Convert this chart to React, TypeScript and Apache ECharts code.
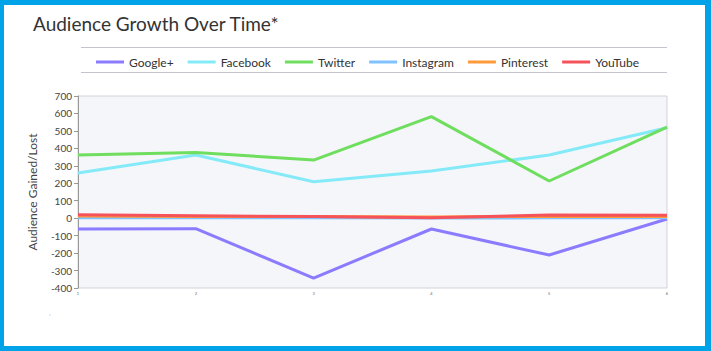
import React, { useEffect, useRef } from "react";
import * as echarts from "echarts";

const categories = ["1", "2", "3", "4", "5", "6"];
const googlePlus = [-62, -60, -343, -62, -211, -5];
const facebook = [259, 362, 209, 270, 362, 518];
const twitter = [362, 377, 333, 582, 213, 522];
const instagram = [3, 3, 2, 1, 2, 3];
const pinterest = [12, 10, 10, 7, 10, 9];
const youtube = [19, 14, 9, 3, 18, 17];
const yTicks = { min: -400, max: 700, interval: 100 };

const seriesDefs = [
  { name: "Google+", data: googlePlus, color: "#8b7bff" },
  { name: "Facebook", data: facebook, color: "#84eaf8" },
  { name: "Twitter", data: twitter, color: "#6fde5e" },
  { name: "Instagram", data: instagram, color: "#80c2ff" },
  { name: "Pinterest", data: pinterest, color: "#ff9a3a" },
  { name: "YouTube", data: youtube, color: "#f5525a" },
];

export default function App() {
  const ref = useRef<HTMLDivElement>(null);
  useEffect(() => {
    if (!ref.current) return;
    const chart = echarts.init(ref.current, null, { renderer: "svg" });
    const font = "Lato, 'Open Sans', sans-serif";
    chart.setOption({
      animation: false,
      backgroundColor: "#ffffff",
      textStyle: { fontFamily: font },
      title: {
        text: "Audience Growth Over Time*",
        left: 28,
        top: 9,
        textStyle: { fontSize: 19, fontWeight: "normal", color: "#333333", fontFamily: font },
      },
      legend: {
        top: 51,
        left: 91,
        itemWidth: 28,
        itemHeight: 3,
        itemGap: 14,
        icon: "rect",
        textStyle: { fontSize: 12, color: "#333333", fontFamily: font },
        data: seriesDefs.map((s) => s.name),
      },
      graphic: [
        { type: "line", shape: { x1: 81, y1: 47.5, x2: 667, y2: 47.5 }, style: { stroke: "#c4c4cc", lineWidth: 1 } },
        { type: "line", shape: { x1: 81, y1: 72.5, x2: 667, y2: 72.5 }, style: { stroke: "#c4c4cc", lineWidth: 1 } },
        { type: "text", left: 49, top: 310, style: { text: ",", fontSize: 6, fill: "#666" } },
      ],
      grid: {
        left: 78,
        right: 44,
        top: 96,
        bottom: 63,
        show: true,
        backgroundColor: "#f5f6fa",
        borderColor: "#d2d3da",
        borderWidth: 1,
      },
      xAxis: {
        type: "category",
        data: categories,
        boundaryGap: false,
        axisLine: { lineStyle: { color: "#d2d3da" } },
        axisTick: { show: false },
        axisLabel: { fontSize: 4, color: "#666", margin: 3 },
        splitLine: { show: false },
      },
      yAxis: {
        type: "value",
        min: yTicks.min,
        max: yTicks.max,
        interval: yTicks.interval,
        name: "Audience Gained/Lost",
        nameLocation: "middle",
        nameGap: 40,
        nameTextStyle: { fontSize: 12, color: "#444", fontFamily: font },
        axisLine: { show: true, lineStyle: { color: "#999" } },
        axisTick: { show: true, length: 4, lineStyle: { color: "#999" } },
        axisLabel: { fontSize: 10, color: "#444", margin: 6, fontFamily: font },
        splitLine: { show: false },
      },
      series: seriesDefs.map((s) => ({
        name: s.name,
        type: "line",
        data: s.data,
        symbol: "none",
        color: s.color,
        lineStyle: { width: 3, color: s.color },
      })),
    });
    return () => chart.dispose();
  }, []);
  return (
    <div style={{ position: "fixed", left: 0, top: 0, width: 711, height: 351 }}>
      <div ref={ref} style={{ position: "absolute", left: 0, top: 0, width: 711, height: 351 }} />
      <div
        style={{
          position: "absolute",
          left: 0,
          top: 0,
          width: 711,
          height: 351,
          boxSizing: "border-box",
          borderStyle: "solid",
          borderColor: "#00a3e8",
          borderWidth: "5px 6px 5px 4px",
          pointerEvents: "none",
        }}
      />
    </div>
  );
}
